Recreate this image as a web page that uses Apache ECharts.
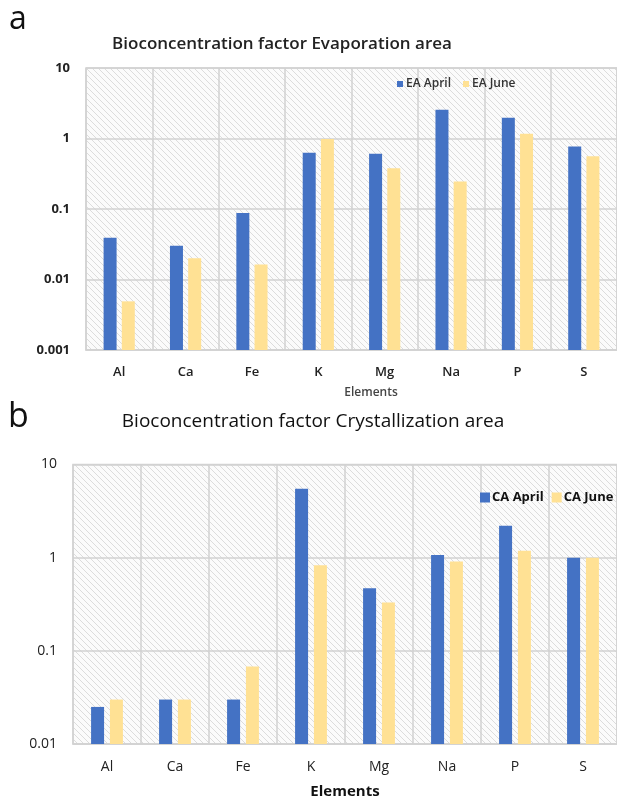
<!DOCTYPE html>
<html>
<head>
<meta charset="utf-8">
<script src="https://cdn.jsdelivr.net/npm/echarts@6/dist/echarts.min.js"></script>
<style>
html,body{margin:0;padding:0;background:#fff;}
#main{width:617px;height:800px;}
</style>
</head>
<body>
<div id="main"></div>
<script>
const categories = ['Al', 'Ca', 'Fe', 'K', 'Mg', 'Na', 'P', 'S'];
const eaApril = [0.039, 0.030, 0.088, 0.63, 0.61, 2.55, 1.97, 0.77];
const eaJune = [0.0049, 0.020, 0.0163, 0.98, 0.38, 0.245, 1.17, 0.56];
const caApril = [0.025, 0.030, 0.030, 5.5, 0.47, 1.07, 2.2, 1.0];
const caJune = [0.030, 0.030, 0.068, 0.83, 0.33, 0.91, 1.19, 1.0];
const yTicksA = ['0.001', '0.01', '0.1', '1', '10'];
const yTicksB = ['0.01', '0.1', '1', '10'];

const FONT = '"Open Sans", "Lato", sans-serif';
const BLUE = '#4472C4';
const YELLOW = '#FFE194';

function hatch() {
  const s = 6;
  const c = document.createElement('canvas');
  c.width = s; c.height = s;
  const g = c.getContext('2d');
  g.fillStyle = '#fbfbfb';
  g.fillRect(0, 0, s, s);
  g.strokeStyle = '#dcdcdc';
  g.lineWidth = 1;
  g.beginPath();
  g.moveTo(-1, -1); g.lineTo(s + 1, s + 1);
  g.moveTo(-1, s - 1); g.lineTo(1, s + 1);
  g.moveTo(s - 1, -1); g.lineTo(s + 1, 1);
  g.stroke();
  return { image: c, repeat: 'repeat' };
}
const pat = hatch();

function fmt(ticks, minExp) {
  return function (v) {
    const e = Math.round(Math.log10(v));
    return ticks[e - minExp] !== undefined ? ticks[e - minExp] : '';
  };
}

const chart = echarts.init(document.getElementById('main'), null, { renderer: 'canvas' });

const gridLine = { show: true, lineStyle: { color: '#d2d2d2', width: 1.5 } };

const option = {
  animation: false,
  backgroundColor: '#ffffff',
  graphic: [
    { type: 'text', x: 9, y: 4, style: { text: 'a', font: '32px ' + FONT, fill: '#111' } },
    { type: 'text', x: 282, y: 44, style: { text: 'Bioconcentration factor Evaporation area', font: '600 17px ' + FONT, fill: '#222', textAlign: 'center', textVerticalAlign: 'middle' } },
    { type: 'text', x: 371, y: 393, style: { text: 'Elements', font: '600 12px ' + FONT, fill: '#444', textAlign: 'center', textVerticalAlign: 'middle' } },
    { type: 'text', x: 8, y: 400, style: { text: 'b', font: '34px ' + FONT, fill: '#111' } },
    { type: 'text', x: 313, y: 422, style: { text: 'Bioconcentration factor Crystallization area', font: '19px ' + FONT, fill: '#111', textAlign: 'center', textVerticalAlign: 'middle' } }
  ],
  legend: [
    {
      data: ['EA April', 'EA June'],
      left: 392, top: 73, width: 300, orient: 'horizontal',
      itemWidth: 6, itemHeight: 6, itemGap: 12,
      icon: 'rect',
      textStyle: { fontFamily: FONT, fontSize: 12, fontWeight: 600, color: '#333', padding: [0, 0, 0, -2] }
    },
    {
      data: ['CA April', 'CA June'],
      left: 475, top: 486, width: 300, orient: 'horizontal',
      itemWidth: 10, itemHeight: 10, itemGap: 8,
      icon: 'rect',
      textStyle: { fontFamily: FONT, fontSize: 13, fontWeight: 'bold', color: '#111', padding: [0, 0, 0, -3] }
    }
  ],
  grid: [
    { left: 86, top: 68, width: 545, height: 282, show: true, backgroundColor: pat, borderColor: '#d2d2d2', borderWidth: 1.5 },
    { left: 73, top: 464.5, width: 550, height: 283.5, show: true, backgroundColor: pat, borderColor: '#d2d2d2', borderWidth: 1.5 }
  ],
  xAxis: [
    {
      type: 'category', gridIndex: 0, data: categories,
      axisLine: { show: true, lineStyle: { color: '#d2d2d2', width: 1.5 } },
      axisTick: { show: false },
      splitLine: gridLine,
      axisLabel: { fontFamily: FONT, fontSize: 13, fontWeight: 600, color: '#222', margin: 16 }
    },
    {
      type: 'category', gridIndex: 1, data: categories,
      axisLine: { show: true, lineStyle: { color: '#d2d2d2', width: 1.5 } },
      axisTick: { show: false },
      splitLine: gridLine,
      axisLabel: { fontFamily: FONT, fontSize: 14, color: '#222', margin: 16 },
      name: 'Elements', nameLocation: 'middle', nameGap: 40,
      nameTextStyle: { fontFamily: FONT, fontSize: 15, fontWeight: 'bold', color: '#111' }
    }
  ],
  yAxis: [
    {
      type: 'log', gridIndex: 0, logBase: 10, min: 0.001, max: 10, startValue: 0.001,
      axisLine: { show: false }, axisTick: { show: false },
      splitLine: gridLine,
      axisLabel: { fontFamily: FONT, fontSize: 13, fontWeight: 'bold', color: '#222', margin: 16, formatter: fmt(yTicksA, -3) }
    },
    {
      type: 'log', gridIndex: 1, logBase: 10, min: 0.01, max: 10, startValue: 0.01,
      axisLine: { show: false }, axisTick: { show: false },
      splitLine: gridLine,
      axisLabel: { fontFamily: FONT, fontSize: 14, color: '#222', margin: 16, formatter: fmt(yTicksB, -2) }
    }
  ],
  series: [
    { name: 'EA April', type: 'bar', xAxisIndex: 0, yAxisIndex: 0, data: eaApril, barWidth: 13, barGap: '40%', itemStyle: { color: BLUE } },
    { name: 'EA June', type: 'bar', xAxisIndex: 0, yAxisIndex: 0, data: eaJune, barWidth: 13, barGap: '40%', itemStyle: { color: YELLOW } },
    { name: 'CA April', type: 'bar', xAxisIndex: 1, yAxisIndex: 1, data: caApril, barWidth: 13, barGap: '45%', itemStyle: { color: BLUE } },
    { name: 'CA June', type: 'bar', xAxisIndex: 1, yAxisIndex: 1, data: caJune, barWidth: 13, barGap: '45%', itemStyle: { color: YELLOW } }
  ]
};
chart.setOption(option);
</script>
</body>
</html>
